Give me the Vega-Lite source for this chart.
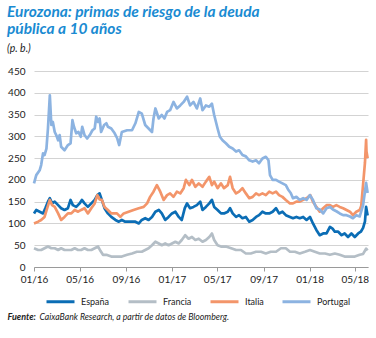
{
  "$schema": "https://vega.github.io/schema/vega-lite/v6.json",
  "width": 334,
  "height": 196,
  "autosize": {"type": "none"},
  "padding": {"left": 34, "top": 71, "right": 8, "bottom": 71},
  "config": {"view": {"stroke": null}, "font": "Lato"},
  "title": {
    "text": ["Eurozona: primas de riesgo de la deuda", "pública a 10 años"],
    "subtitle": "(p. b.)",
    "anchor": "start",
    "frame": "group",
    "dx": -27,
    "offset": 12,
    "font": "Lato",
    "fontSize": 15.5,
    "fontStyle": "italic",
    "fontWeight": "bold",
    "color": "#1a8bd2",
    "lineHeight": 17,
    "subtitleFont": "Lato",
    "subtitleFontSize": 10.5,
    "subtitleFontStyle": "italic",
    "subtitleColor": "#222222",
    "subtitlePadding": 6
  },
  "data": {
    "values": [
      {"d":"2016-01-01","s":"España","v":123},{"d":"2016-01-07","s":"España","v":131},{"d":"2016-01-16","s":"España","v":127},{"d":"2016-01-25","s":"España","v":123},{"d":"2016-01-31","s":"España","v":135},{"d":"2016-02-07","s":"España","v":150},{"d":"2016-02-12","s":"España","v":158},{"d":"2016-02-18","s":"España","v":146},{"d":"2016-02-25","s":"España","v":150},{"d":"2016-03-05","s":"España","v":142},{"d":"2016-03-13","s":"España","v":135},{"d":"2016-03-22","s":"España","v":131},{"d":"2016-03-31","s":"España","v":135},{"d":"2016-04-07","s":"España","v":154},{"d":"2016-04-13","s":"España","v":142},{"d":"2016-04-22","s":"España","v":138},{"d":"2016-05-01","s":"España","v":146},{"d":"2016-05-07","s":"España","v":154},{"d":"2016-05-14","s":"España","v":146},{"d":"2016-05-23","s":"España","v":138},{"d":"2016-06-01","s":"España","v":146},{"d":"2016-06-10","s":"España","v":154},{"d":"2016-06-17","s":"España","v":165},{"d":"2016-06-23","s":"España","v":169},{"d":"2016-06-29","s":"España","v":154},{"d":"2016-07-06","s":"España","v":135},{"d":"2016-07-15","s":"España","v":123},{"d":"2016-07-24","s":"España","v":115},{"d":"2016-08-04","s":"España","v":108},{"d":"2016-08-13","s":"España","v":104},{"d":"2016-08-21","s":"España","v":108},{"d":"2016-08-30","s":"España","v":104},{"d":"2016-09-12","s":"España","v":104},{"d":"2016-09-26","s":"España","v":104},{"d":"2016-10-05","s":"España","v":100},{"d":"2016-10-13","s":"España","v":108},{"d":"2016-10-22","s":"España","v":112},{"d":"2016-10-31","s":"España","v":108},{"d":"2016-11-09","s":"España","v":115},{"d":"2016-11-18","s":"España","v":127},{"d":"2016-11-27","s":"España","v":131},{"d":"2016-12-05","s":"España","v":123},{"d":"2016-12-14","s":"España","v":108},{"d":"2016-12-23","s":"España","v":115},{"d":"2017-01-01","s":"España","v":123},{"d":"2017-01-10","s":"España","v":127},{"d":"2017-01-19","s":"España","v":115},{"d":"2017-01-27","s":"España","v":108},{"d":"2017-02-04","s":"España","v":135},{"d":"2017-02-10","s":"España","v":146},{"d":"2017-02-18","s":"España","v":135},{"d":"2017-02-27","s":"España","v":138},{"d":"2017-03-08","s":"España","v":142},{"d":"2017-03-17","s":"España","v":150},{"d":"2017-03-23","s":"España","v":131},{"d":"2017-04-01","s":"España","v":138},{"d":"2017-04-10","s":"España","v":146},{"d":"2017-04-17","s":"España","v":154},{"d":"2017-04-23","s":"España","v":138},{"d":"2017-05-02","s":"España","v":131},{"d":"2017-05-11","s":"España","v":123},{"d":"2017-05-19","s":"España","v":123},{"d":"2017-05-29","s":"España","v":127},{"d":"2017-06-04","s":"España","v":135},{"d":"2017-06-11","s":"España","v":123},{"d":"2017-06-20","s":"España","v":115},{"d":"2017-06-28","s":"España","v":119},{"d":"2017-07-07","s":"España","v":112},{"d":"2017-07-16","s":"España","v":115},{"d":"2017-07-25","s":"España","v":104},{"d":"2017-08-03","s":"España","v":108},{"d":"2017-08-12","s":"España","v":115},{"d":"2017-08-20","s":"España","v":119},{"d":"2017-08-29","s":"España","v":127},{"d":"2017-09-07","s":"España","v":123},{"d":"2017-09-16","s":"España","v":123},{"d":"2017-09-25","s":"España","v":127},{"d":"2017-10-04","s":"España","v":135},{"d":"2017-10-12","s":"España","v":123},{"d":"2017-10-21","s":"España","v":127},{"d":"2017-10-30","s":"España","v":119},{"d":"2017-11-10","s":"España","v":115},{"d":"2017-11-18","s":"España","v":112},{"d":"2017-11-27","s":"España","v":115},{"d":"2017-12-06","s":"España","v":112},{"d":"2017-12-15","s":"España","v":115},{"d":"2017-12-24","s":"España","v":108},{"d":"2018-01-02","s":"España","v":115},{"d":"2018-01-10","s":"España","v":100},{"d":"2018-01-19","s":"España","v":85},{"d":"2018-01-28","s":"España","v":73},{"d":"2018-02-06","s":"España","v":77},{"d":"2018-02-15","s":"España","v":77},{"d":"2018-02-24","s":"España","v":92},{"d":"2018-03-03","s":"España","v":88},{"d":"2018-03-09","s":"España","v":81},{"d":"2018-03-18","s":"España","v":81},{"d":"2018-03-27","s":"España","v":73},{"d":"2018-04-04","s":"España","v":77},{"d":"2018-04-13","s":"España","v":69},{"d":"2018-04-22","s":"España","v":77},{"d":"2018-05-01","s":"España","v":69},{"d":"2018-05-10","s":"España","v":77},{"d":"2018-05-17","s":"España","v":81},{"d":"2018-05-23","s":"España","v":90},{"d":"2018-05-28","s":"España","v":105},{"d":"2018-05-31","s":"España","v":138},{"d":"2018-06-04","s":"España","v":118},
      {"d":"2016-01-01","s":"Francia","v":43},{"d":"2016-01-12","s":"Francia","v":39},{"d":"2016-01-20","s":"Francia","v":39},{"d":"2016-01-29","s":"Francia","v":43},{"d":"2016-02-07","s":"Francia","v":47},{"d":"2016-02-16","s":"Francia","v":43},{"d":"2016-02-25","s":"Francia","v":43},{"d":"2016-03-05","s":"Francia","v":39},{"d":"2016-03-13","s":"Francia","v":43},{"d":"2016-03-22","s":"Francia","v":39},{"d":"2016-03-31","s":"Francia","v":39},{"d":"2016-04-09","s":"Francia","v":39},{"d":"2016-04-18","s":"Francia","v":43},{"d":"2016-04-27","s":"Francia","v":39},{"d":"2016-05-05","s":"Francia","v":39},{"d":"2016-05-14","s":"Francia","v":43},{"d":"2016-05-23","s":"Francia","v":39},{"d":"2016-06-01","s":"Francia","v":39},{"d":"2016-06-10","s":"Francia","v":43},{"d":"2016-06-19","s":"Francia","v":47},{"d":"2016-06-26","s":"Francia","v":36},{"d":"2016-07-02","s":"Francia","v":28},{"d":"2016-07-11","s":"Francia","v":28},{"d":"2016-07-24","s":"Francia","v":24},{"d":"2016-08-06","s":"Francia","v":24},{"d":"2016-08-21","s":"Francia","v":24},{"d":"2016-09-04","s":"Francia","v":28},{"d":"2016-09-17","s":"Francia","v":31},{"d":"2016-09-30","s":"Francia","v":35},{"d":"2016-10-13","s":"Francia","v":35},{"d":"2016-10-22","s":"Francia","v":39},{"d":"2016-10-31","s":"Francia","v":43},{"d":"2016-11-09","s":"Francia","v":50},{"d":"2016-11-18","s":"Francia","v":58},{"d":"2016-11-27","s":"Francia","v":54},{"d":"2016-12-05","s":"Francia","v":50},{"d":"2016-12-14","s":"Francia","v":54},{"d":"2016-12-23","s":"Francia","v":50},{"d":"2017-01-01","s":"Francia","v":54},{"d":"2017-01-10","s":"Francia","v":58},{"d":"2017-01-19","s":"Francia","v":54},{"d":"2017-01-27","s":"Francia","v":62},{"d":"2017-02-05","s":"Francia","v":73},{"d":"2017-02-14","s":"Francia","v":65},{"d":"2017-02-23","s":"Francia","v":69},{"d":"2017-03-04","s":"Francia","v":62},{"d":"2017-03-13","s":"Francia","v":65},{"d":"2017-03-23","s":"Francia","v":58},{"d":"2017-04-01","s":"Francia","v":62},{"d":"2017-04-10","s":"Francia","v":69},{"d":"2017-04-17","s":"Francia","v":77},{"d":"2017-04-23","s":"Francia","v":62},{"d":"2017-05-02","s":"Francia","v":50},{"d":"2017-05-11","s":"Francia","v":47},{"d":"2017-05-24","s":"Francia","v":47},{"d":"2017-06-07","s":"Francia","v":43},{"d":"2017-06-20","s":"Francia","v":39},{"d":"2017-07-03","s":"Francia","v":39},{"d":"2017-07-16","s":"Francia","v":31},{"d":"2017-07-29","s":"Francia","v":31},{"d":"2017-08-12","s":"Francia","v":35},{"d":"2017-08-25","s":"Francia","v":35},{"d":"2017-09-07","s":"Francia","v":31},{"d":"2017-09-20","s":"Francia","v":35},{"d":"2017-10-04","s":"Francia","v":35},{"d":"2017-10-17","s":"Francia","v":43},{"d":"2017-10-30","s":"Francia","v":43},{"d":"2017-11-10","s":"Francia","v":35},{"d":"2017-11-23","s":"Francia","v":35},{"d":"2017-12-06","s":"Francia","v":31},{"d":"2017-12-20","s":"Francia","v":35},{"d":"2018-01-02","s":"Francia","v":39},{"d":"2018-01-15","s":"Francia","v":35},{"d":"2018-01-28","s":"Francia","v":31},{"d":"2018-02-11","s":"Francia","v":31},{"d":"2018-02-24","s":"Francia","v":28},{"d":"2018-03-09","s":"Francia","v":31},{"d":"2018-03-22","s":"Francia","v":28},{"d":"2018-04-04","s":"Francia","v":24},{"d":"2018-04-18","s":"Francia","v":24},{"d":"2018-05-01","s":"Francia","v":24},{"d":"2018-05-14","s":"Francia","v":28},{"d":"2018-05-23","s":"Francia","v":30},{"d":"2018-05-31","s":"Francia","v":42},{"d":"2018-06-04","s":"Francia","v":38},
      {"d":"2016-01-01","s":"Italia","v":100},{"d":"2016-01-12","s":"Italia","v":104},{"d":"2016-01-20","s":"Italia","v":108},{"d":"2016-01-29","s":"Italia","v":115},{"d":"2016-02-05","s":"Italia","v":135},{"d":"2016-02-12","s":"Italia","v":154},{"d":"2016-02-18","s":"Italia","v":142},{"d":"2016-02-25","s":"Italia","v":138},{"d":"2016-03-05","s":"Italia","v":123},{"d":"2016-03-13","s":"Italia","v":108},{"d":"2016-03-22","s":"Italia","v":115},{"d":"2016-03-31","s":"Italia","v":123},{"d":"2016-04-09","s":"Italia","v":123},{"d":"2016-04-18","s":"Italia","v":131},{"d":"2016-04-27","s":"Italia","v":127},{"d":"2016-05-05","s":"Italia","v":131},{"d":"2016-05-14","s":"Italia","v":135},{"d":"2016-05-23","s":"Italia","v":123},{"d":"2016-06-01","s":"Italia","v":135},{"d":"2016-06-10","s":"Italia","v":146},{"d":"2016-06-17","s":"Italia","v":165},{"d":"2016-06-23","s":"Italia","v":155},{"d":"2016-06-29","s":"Italia","v":154},{"d":"2016-07-06","s":"Italia","v":138},{"d":"2016-07-15","s":"Italia","v":131},{"d":"2016-07-24","s":"Italia","v":123},{"d":"2016-08-08","s":"Italia","v":123},{"d":"2016-08-17","s":"Italia","v":115},{"d":"2016-08-26","s":"Italia","v":123},{"d":"2016-09-08","s":"Italia","v":127},{"d":"2016-09-21","s":"Italia","v":131},{"d":"2016-10-05","s":"Italia","v":135},{"d":"2016-10-18","s":"Italia","v":138},{"d":"2016-10-27","s":"Italia","v":146},{"d":"2016-11-04","s":"Italia","v":161},{"d":"2016-11-13","s":"Italia","v":173},{"d":"2016-11-22","s":"Italia","v":188},{"d":"2016-12-01","s":"Italia","v":173},{"d":"2016-12-10","s":"Italia","v":154},{"d":"2016-12-19","s":"Italia","v":165},{"d":"2016-12-27","s":"Italia","v":169},{"d":"2017-01-05","s":"Italia","v":161},{"d":"2017-01-14","s":"Italia","v":173},{"d":"2017-01-23","s":"Italia","v":169},{"d":"2017-02-01","s":"Italia","v":181},{"d":"2017-02-07","s":"Italia","v":200},{"d":"2017-02-16","s":"Italia","v":188},{"d":"2017-02-23","s":"Italia","v":200},{"d":"2017-03-04","s":"Italia","v":184},{"d":"2017-03-13","s":"Italia","v":192},{"d":"2017-03-23","s":"Italia","v":184},{"d":"2017-04-01","s":"Italia","v":196},{"d":"2017-04-10","s":"Italia","v":207},{"d":"2017-04-17","s":"Italia","v":188},{"d":"2017-04-23","s":"Italia","v":196},{"d":"2017-05-02","s":"Italia","v":181},{"d":"2017-05-11","s":"Italia","v":192},{"d":"2017-05-19","s":"Italia","v":181},{"d":"2017-05-29","s":"Italia","v":188},{"d":"2017-06-04","s":"Italia","v":207},{"d":"2017-06-11","s":"Italia","v":181},{"d":"2017-06-20","s":"Italia","v":169},{"d":"2017-06-28","s":"Italia","v":173},{"d":"2017-07-07","s":"Italia","v":181},{"d":"2017-07-16","s":"Italia","v":169},{"d":"2017-07-25","s":"Italia","v":158},{"d":"2017-08-03","s":"Italia","v":161},{"d":"2017-08-12","s":"Italia","v":169},{"d":"2017-08-20","s":"Italia","v":165},{"d":"2017-08-29","s":"Italia","v":169},{"d":"2017-09-07","s":"Italia","v":165},{"d":"2017-09-16","s":"Italia","v":173},{"d":"2017-09-25","s":"Italia","v":169},{"d":"2017-10-04","s":"Italia","v":173},{"d":"2017-10-12","s":"Italia","v":165},{"d":"2017-10-21","s":"Italia","v":161},{"d":"2017-10-30","s":"Italia","v":154},{"d":"2017-11-10","s":"Italia","v":146},{"d":"2017-11-18","s":"Italia","v":146},{"d":"2017-11-27","s":"Italia","v":150},{"d":"2017-12-06","s":"Italia","v":150},{"d":"2017-12-15","s":"Italia","v":154},{"d":"2017-12-24","s":"Italia","v":158},{"d":"2018-01-03","s":"Italia","v":165},{"d":"2018-01-10","s":"Italia","v":150},{"d":"2018-01-19","s":"Italia","v":138},{"d":"2018-01-28","s":"Italia","v":127},{"d":"2018-02-06","s":"Italia","v":135},{"d":"2018-02-15","s":"Italia","v":142},{"d":"2018-02-24","s":"Italia","v":142},{"d":"2018-03-04","s":"Italia","v":138},{"d":"2018-03-13","s":"Italia","v":142},{"d":"2018-03-22","s":"Italia","v":138},{"d":"2018-03-31","s":"Italia","v":135},{"d":"2018-04-09","s":"Italia","v":131},{"d":"2018-04-18","s":"Italia","v":127},{"d":"2018-04-26","s":"Italia","v":119},{"d":"2018-05-05","s":"Italia","v":127},{"d":"2018-05-14","s":"Italia","v":131},{"d":"2018-05-18","s":"Italia","v":140},{"d":"2018-05-23","s":"Italia","v":190},{"d":"2018-05-28","s":"Italia","v":240},{"d":"2018-05-31","s":"Italia","v":292},{"d":"2018-06-01","s":"Italia","v":265},{"d":"2018-06-04","s":"Italia","v":250},
      {"d":"2016-01-01","s":"Portugal","v":192},{"d":"2016-01-07","s":"Portugal","v":211},{"d":"2016-01-16","s":"Portugal","v":222},{"d":"2016-01-20","s":"Portugal","v":234},{"d":"2016-01-25","s":"Portugal","v":261},{"d":"2016-01-29","s":"Portugal","v":257},{"d":"2016-02-03","s":"Portugal","v":272},{"d":"2016-02-07","s":"Portugal","v":318},{"d":"2016-02-12","s":"Portugal","v":394},{"d":"2016-02-16","s":"Portugal","v":326},{"d":"2016-02-20","s":"Portugal","v":333},{"d":"2016-02-25","s":"Portugal","v":310},{"d":"2016-02-29","s":"Portugal","v":303},{"d":"2016-03-05","s":"Portugal","v":291},{"d":"2016-03-09","s":"Portugal","v":303},{"d":"2016-03-13","s":"Portugal","v":276},{"d":"2016-03-22","s":"Portugal","v":268},{"d":"2016-03-31","s":"Portugal","v":280},{"d":"2016-04-07","s":"Portugal","v":284},{"d":"2016-04-12","s":"Portugal","v":337},{"d":"2016-04-16","s":"Portugal","v":322},{"d":"2016-04-22","s":"Portugal","v":307},{"d":"2016-04-28","s":"Portugal","v":310},{"d":"2016-05-04","s":"Portugal","v":299},{"d":"2016-05-08","s":"Portugal","v":322},{"d":"2016-05-14","s":"Portugal","v":303},{"d":"2016-05-21","s":"Portugal","v":295},{"d":"2016-05-28","s":"Portugal","v":303},{"d":"2016-06-04","s":"Portugal","v":314},{"d":"2016-06-10","s":"Portugal","v":318},{"d":"2016-06-14","s":"Portugal","v":345},{"d":"2016-06-19","s":"Portugal","v":333},{"d":"2016-06-23","s":"Portugal","v":341},{"d":"2016-06-27","s":"Portugal","v":310},{"d":"2016-07-05","s":"Portugal","v":326},{"d":"2016-07-11","s":"Portugal","v":330},{"d":"2016-07-15","s":"Portugal","v":322},{"d":"2016-07-24","s":"Portugal","v":318},{"d":"2016-08-02","s":"Portugal","v":307},{"d":"2016-08-09","s":"Portugal","v":295},{"d":"2016-08-14","s":"Portugal","v":280},{"d":"2016-08-21","s":"Portugal","v":310},{"d":"2016-09-04","s":"Portugal","v":314},{"d":"2016-09-17","s":"Portugal","v":314},{"d":"2016-09-26","s":"Portugal","v":330},{"d":"2016-10-05","s":"Portugal","v":356},{"d":"2016-10-13","s":"Portugal","v":352},{"d":"2016-10-22","s":"Portugal","v":326},{"d":"2016-10-31","s":"Portugal","v":318},{"d":"2016-11-09","s":"Portugal","v":310},{"d":"2016-11-13","s":"Portugal","v":341},{"d":"2016-11-18","s":"Portugal","v":364},{"d":"2016-11-27","s":"Portugal","v":341},{"d":"2016-12-05","s":"Portugal","v":349},{"d":"2016-12-12","s":"Portugal","v":341},{"d":"2016-12-19","s":"Portugal","v":356},{"d":"2016-12-27","s":"Portugal","v":360},{"d":"2017-01-05","s":"Portugal","v":379},{"d":"2017-01-14","s":"Portugal","v":364},{"d":"2017-01-23","s":"Portugal","v":371},{"d":"2017-02-01","s":"Portugal","v":379},{"d":"2017-02-10","s":"Portugal","v":391},{"d":"2017-02-18","s":"Portugal","v":371},{"d":"2017-02-27","s":"Portugal","v":379},{"d":"2017-03-08","s":"Portugal","v":364},{"d":"2017-03-17","s":"Portugal","v":387},{"d":"2017-03-23","s":"Portugal","v":360},{"d":"2017-04-01","s":"Portugal","v":371},{"d":"2017-04-10","s":"Portugal","v":368},{"d":"2017-04-17","s":"Portugal","v":375},{"d":"2017-04-23","s":"Portugal","v":349},{"d":"2017-05-02","s":"Portugal","v":318},{"d":"2017-05-08","s":"Portugal","v":299},{"d":"2017-05-15","s":"Portugal","v":291},{"d":"2017-05-24","s":"Portugal","v":284},{"d":"2017-06-02","s":"Portugal","v":276},{"d":"2017-06-11","s":"Portugal","v":272},{"d":"2017-06-20","s":"Portugal","v":265},{"d":"2017-06-28","s":"Portugal","v":268},{"d":"2017-07-07","s":"Portugal","v":257},{"d":"2017-07-16","s":"Portugal","v":254},{"d":"2017-07-25","s":"Portugal","v":245},{"d":"2017-08-03","s":"Portugal","v":242},{"d":"2017-08-12","s":"Portugal","v":245},{"d":"2017-08-20","s":"Portugal","v":238},{"d":"2017-08-29","s":"Portugal","v":249},{"d":"2017-09-07","s":"Portugal","v":253},{"d":"2017-09-14","s":"Portugal","v":245},{"d":"2017-09-18","s":"Portugal","v":211},{"d":"2017-09-25","s":"Portugal","v":200},{"d":"2017-10-04","s":"Portugal","v":200},{"d":"2017-10-12","s":"Portugal","v":196},{"d":"2017-10-21","s":"Portugal","v":192},{"d":"2017-10-30","s":"Portugal","v":188},{"d":"2017-11-05","s":"Portugal","v":178},{"d":"2017-11-12","s":"Portugal","v":170},{"d":"2017-11-18","s":"Portugal","v":158},{"d":"2017-11-27","s":"Portugal","v":161},{"d":"2017-12-06","s":"Portugal","v":154},{"d":"2017-12-15","s":"Portugal","v":158},{"d":"2017-12-24","s":"Portugal","v":154},{"d":"2018-01-02","s":"Portugal","v":165},{"d":"2018-01-10","s":"Portugal","v":154},{"d":"2018-01-19","s":"Portugal","v":135},{"d":"2018-01-28","s":"Portugal","v":132},{"d":"2018-02-06","s":"Portugal","v":123},{"d":"2018-02-15","s":"Portugal","v":135},{"d":"2018-02-24","s":"Portugal","v":138},{"d":"2018-03-04","s":"Portugal","v":132},{"d":"2018-03-13","s":"Portugal","v":128},{"d":"2018-03-22","s":"Portugal","v":123},{"d":"2018-03-31","s":"Portugal","v":119},{"d":"2018-04-09","s":"Portugal","v":119},{"d":"2018-04-18","s":"Portugal","v":116},{"d":"2018-04-26","s":"Portugal","v":112},{"d":"2018-05-05","s":"Portugal","v":119},{"d":"2018-05-14","s":"Portugal","v":116},{"d":"2018-05-23","s":"Portugal","v":142},{"d":"2018-05-31","s":"Portugal","v":193},{"d":"2018-06-04","s":"Portugal","v":170}
    ]
  },
  "mark": {"type": "line", "strokeWidth": 2.7, "strokeJoin": "round"},
  "encoding": {
    "x": {
      "field": "d",
      "type": "temporal",
      "scale": {
        "type": "utc",
        "domain": [
          {"year": 2016, "month": 1, "date": 1, "utc": true},
          {"year": 2018, "month": 6, "date": 5, "utc": true}
        ]
      },
      "axis": {
        "values": [
          {"year": 2016, "month": 1, "date": 1, "utc": true},
          {"year": 2016, "month": 5, "date": 1, "utc": true},
          {"year": 2016, "month": 9, "date": 1, "utc": true},
          {"year": 2017, "month": 1, "date": 1, "utc": true},
          {"year": 2017, "month": 5, "date": 1, "utc": true},
          {"year": 2017, "month": 9, "date": 1, "utc": true},
          {"year": 2018, "month": 1, "date": 1, "utc": true},
          {"year": 2018, "month": 5, "date": 1, "utc": true}
        ],
        "labelExpr": "utcFormat(datum.value, '%m/%y')",
        "grid": false,
        "domain": true,
        "domainColor": "#9a9a9a",
        "ticks": true,
        "tickSize": 4,
        "tickColor": "#9a9a9a",
        "labelFont": "Lato",
        "labelFontSize": 10,
        "labelColor": "#222222",
        "labelPadding": 3,
        "labelFlush": false,
        "title": "CaixaBank Research, a partir de datos de Bloomberg.",
        "titleX": 5,
        "titleY": 52,
        "titleAlign": "left",
        "titleAnchor": "start",
        "titleBaseline": "alphabetic",
        "titleFont": "Lato",
        "titleFontSize": 8.7,
        "titleFontStyle": "italic",
        "titleFontWeight": "normal",
        "titleColor": "#222222"
      }
    },
    "y": {
      "field": "v",
      "type": "quantitative",
      "scale": {"domain": [0, 450], "nice": false},
      "axis": {
        "values": [0, 50, 100, 150, 200, 250, 300, 350, 400, 450],
        "grid": true,
        "gridColor": "#d3d3d3",
        "gridWidth": 1,
        "domain": false,
        "ticks": false,
        "labelFont": "Lato",
        "labelFontSize": 10,
        "labelColor": "#222222",
        "labelPadding": 9,
        "title": "Fuente:",
        "titleAngle": 0,
        "titleX": -27,
        "titleY": 248,
        "titleAlign": "left",
        "titleAnchor": "start",
        "titleBaseline": "alphabetic",
        "titleFont": "Lato",
        "titleFontSize": 9,
        "titleFontStyle": "italic",
        "titleFontWeight": "bold",
        "titleColor": "#222222"
      }
    },
    "color": {
      "field": "s",
      "type": "nominal",
      "scale": {
        "domain": ["España", "Francia", "Italia", "Portugal"],
        "range": ["#0b6db5", "#b4bec6", "#f3956a", "#8cb3e1"]
      },
      "legend": {
        "orient": "none",
        "legendX": 11,
        "legendY": 215,
        "direction": "horizontal",
        "title": null,
        "symbolType": "M-1,0H1",
        "symbolSize": 784,
        "symbolStrokeWidth": 3,
        "labelFont": "Lato",
        "labelFontSize": 9,
        "labelColor": "#222222",
        "labelOffset": 5,
        "columnPadding": 12
      }
    }
  }
}
